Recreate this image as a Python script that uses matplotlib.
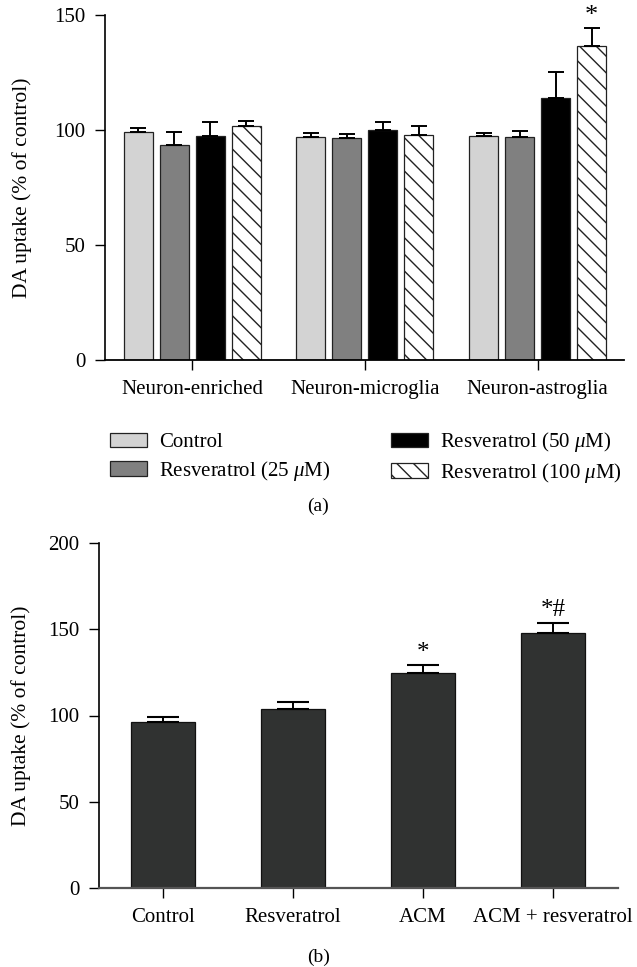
import matplotlib
matplotlib.use("Agg")
import matplotlib.pyplot as plt
import numpy as np

plt.rcParams['font.family'] = ['Liberation Serif', 'DejaVu Serif']
plt.rcParams['mathtext.fontset'] = 'custom'
plt.rcParams['mathtext.rm'] = 'Liberation Serif'
plt.rcParams['mathtext.it'] = 'Liberation Serif:italic'
plt.rcParams['hatch.linewidth'] = 1.0

# ---- Data panel (a) ----
groups_a = ["Neuron-enriched", "Neuron-microglia", "Neuron-astroglia"]
series_a = ["Control", r"Resveratrol (25 $\mu$M)", r"Resveratrol (50 $\mu$M)", r"Resveratrol (100 $\mu$M)"]
control_a = [99.2, 97.0, 97.6]
res25_a = [93.4, 96.6, 97.0]
res50_a = [97.6, 99.9, 114.0]
res100_a = [101.6, 97.9, 136.5]
control_err = [1.7, 1.9, 1.0]
res25_err = [5.6, 1.6, 2.5]
res50_err = [5.8, 3.5, 11.2]
res100_err = [2.2, 3.7, 7.8]
yticks_a = [0, 50, 100, 150]

# ---- Data panel (b) ----
cats_b = ["Control", "Resveratrol", "ACM", "ACM + resveratrol"]
vals_b = [96.3, 103.5, 124.5, 148.0]
err_b = [3.1, 4.6, 4.5, 5.5]
marks_b = ["", "", "*", "*#"]
yticks_b = [0, 50, 100, 150, 200]

W, H = 637, 967
fig = plt.figure(figsize=(W / 100, H / 100), dpi=100)

def px_axes(l, r, top, bot):
    return fig.add_axes([l / W, 1 - bot / H, (r - l) / W, (bot - top) / H])

FS = 15
YLFS = 15.5

# ---------- Panel (a) ----------
L1, R1 = 105, 624
ax = px_axes(L1, R1, 15, 360)
vals = [control_a, res25_a, res50_a, res100_a]
errs = [control_err, res25_err, res50_err, res100_err]
faces = ["#d3d3d3", "#808080", "#000000", "white"]
hatches = [None, None, None, "\\\\"]
step = 0.2085
width = 0.168
x = np.arange(len(groups_a))
handles = []
for i in range(4):
    xi = x + (i - 1.5) * step
    b = ax.bar(xi, vals[i], width, color=faces[i], edgecolor="#222222",
               linewidth=0.9, hatch=hatches[i], label=series_a[i], zorder=2)
    handles.append(b)
    ax.errorbar(xi, vals[i], yerr=[np.zeros(3), errs[i]], fmt="none",
                ecolor="black", elinewidth=1.4, capsize=5.8, capthick=1.4, zorder=3)
xs = x[2] + 1.5 * step
ax.text(xs, res100_a[2] + res100_err[2] + 0.5, "*", ha="center", va="bottom", fontsize=19)

ax.set_xlim(-0.504, 2.50)
ax.set_ylim(0, 150)
ax.set_yticks(yticks_a)
ax.set_xticks(x)
ax.set_xticklabels(groups_a)
ax.set_ylabel("DA uptake (% of control)", fontsize=YLFS)
ax.yaxis.set_label_coords((32 - L1) / (R1 - L1), 0.5)
ax.tick_params(axis="both", labelsize=FS, length=7.2, width=1.0, direction="out")
ax.tick_params(axis="y", pad=7)
ax.tick_params(axis="x", pad=7)
for s in ["top", "right"]:
    ax.spines[s].set_visible(False)
ax.spines["left"].set_linewidth(1.2)
ax.spines["bottom"].set_linewidth(1.3)

leg = ax.legend(handles=handles, loc="upper left", ncol=2, frameon=False,
                bbox_to_anchor=(102 / W, 1 - 422 / H), bbox_transform=fig.transFigure,
                fontsize=FS, handlelength=1.75, handleheight=0.7, handletextpad=0.6,
                columnspacing=2.9, labelspacing=0.3, borderaxespad=0)

fig.text(0.5, 1 - 506 / H, "(a)", ha="center", va="center", fontsize=14)

# ---------- Panel (b) ----------
L2, R2 = 99, 618
ax2 = px_axes(L2, R2, 543, 888)
xb = np.arange(len(cats_b))
ax2.bar(xb, vals_b, 0.492, color="#303231", edgecolor="#111111", linewidth=0.9, zorder=2)
ax2.errorbar(xb, vals_b, yerr=[np.zeros(4), err_b], fmt="none", ecolor="black",
             elinewidth=1.4, capsize=11.5, capthick=1.5, zorder=3)
for xi, v, e, m in zip(xb, vals_b, err_b, marks_b):
    if m:
        ax2.text(xi, v + e + 1.0, m, ha="center", va="bottom", fontsize=18)
ax2.set_xlim(-0.492, 3.5)
ax2.set_ylim(0, 200)
ax2.set_yticks(yticks_b)
ax2.set_xticks(xb)
ax2.set_xticklabels(cats_b)
ax2.set_ylabel("DA uptake (% of control)", fontsize=YLFS)
ax2.yaxis.set_label_coords((31 - L2) / (R2 - L2), 0.5)
ax2.tick_params(axis="both", labelsize=FS, length=7.2, width=1.0, direction="out")
ax2.tick_params(axis="y", pad=7)
ax2.tick_params(axis="x", pad=7)
for s in ["top", "right"]:
    ax2.spines[s].set_visible(False)
ax2.spines["left"].set_linewidth(1.2)
ax2.spines["bottom"].set_linewidth(1.6)
ax2.spines["bottom"].set_color("#555555")

fig.text(0.5, 1 - 957 / H, "(b)", ha="center", va="center", fontsize=14)

fig.savefig("out.png", dpi=100)
